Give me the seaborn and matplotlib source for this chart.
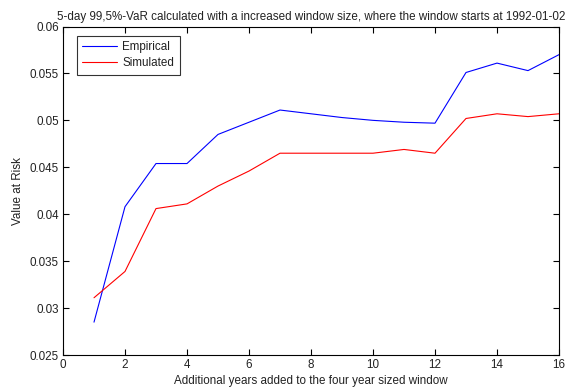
import numpy as np
import pandas as pd
import matplotlib
matplotlib.use("Agg")
import matplotlib.pyplot as plt
import seaborn as sns

# Additional years appended to the initial four-year window
years = [1, 2, 3, 4, 5, 6, 7, 8, 9, 10, 11, 12, 13, 14, 15, 16]

# 5-day 99.5% Value-at-Risk estimates
empirical = [0.0285, 0.0408, 0.0454, 0.0454, 0.0485, 0.0498, 0.0511, 0.0507,
             0.0503, 0.0500, 0.0498, 0.0497, 0.0551, 0.0561, 0.0553, 0.0570]
simulated = [0.0311, 0.0339, 0.0406, 0.0411, 0.0430, 0.0446, 0.0465, 0.0465,
             0.0465, 0.0465, 0.0469, 0.0465, 0.0502, 0.0507, 0.0504, 0.0507]

series_names = ["Empirical", "Simulated"]
x_ticks = [0, 2, 4, 6, 8, 10, 12, 14, 16]
y_ticks = [0.025, 0.03, 0.035, 0.04, 0.045, 0.05, 0.055, 0.06]
y_tick_labels = ["0.025", "0.03", "0.035", "0.04", "0.045", "0.05", "0.055", "0.06"]

df = pd.DataFrame({
    "year": years * 2,
    "var": empirical + simulated,
    "series": [series_names[0]] * len(years) + [series_names[1]] * len(years),
})

FS = 8.4
sns.set_theme(style="white")
plt.rcParams["font.family"] = ["Liberation Sans", "DejaVu Sans"]
plt.rcParams["font.size"] = FS

fig = plt.figure(figsize=(5.66, 3.90), dpi=100)
ax = fig.add_axes([63 / 566, 35 / 390, 496 / 566, 328.5 / 390])

sns.lineplot(data=df, x="year", y="var", hue="series",
             palette={"Empirical": "#0000ff", "Simulated": "#ff0000"},
             linewidth=0.8, ax=ax, legend=True)

ax.set_xlim(0, 16)
ax.set_ylim(0.025, 0.06)
ax.set_xticks(x_ticks)
ax.set_xticklabels([str(t) for t in x_ticks])
ax.set_yticks(y_ticks)
ax.set_yticklabels(y_tick_labels)

for s in ax.spines.values():
    s.set_color("black")
    s.set_linewidth(0.8)

ax.tick_params(direction="in", length=4, width=0.8, colors="black",
               labelsize=FS, top=True, right=True, bottom=True, left=True,
               pad=3)
for lbl in ax.get_xticklabels() + ax.get_yticklabels():
    lbl.set_color("#222222")

ax.set_xlabel("Additional years added to the four year sized window",
              fontsize=FS, color="#222222", labelpad=3)
ax.set_ylabel("Value at Risk", fontsize=FS, color="#222222", labelpad=4)
ax.set_title("5-day 99,5%-VaR calculated with a increased window size, "
             "where the window starts at 1992-01-02",
             fontsize=FS, color="#222222", pad=5)

leg = ax.legend(loc="upper left", bbox_to_anchor=(0.028, 0.971),
                borderaxespad=0, frameon=True, fancybox=False, fontsize=FS,
                handlelength=3.0, borderpad=0.45, labelspacing=0.35,
                handletextpad=0.45)
leg.get_frame().set_edgecolor("black")
leg.get_frame().set_linewidth(0.8)
for t in leg.get_texts():
    t.set_color("#222222")

fig.savefig("out.png", dpi=100, facecolor="white")
